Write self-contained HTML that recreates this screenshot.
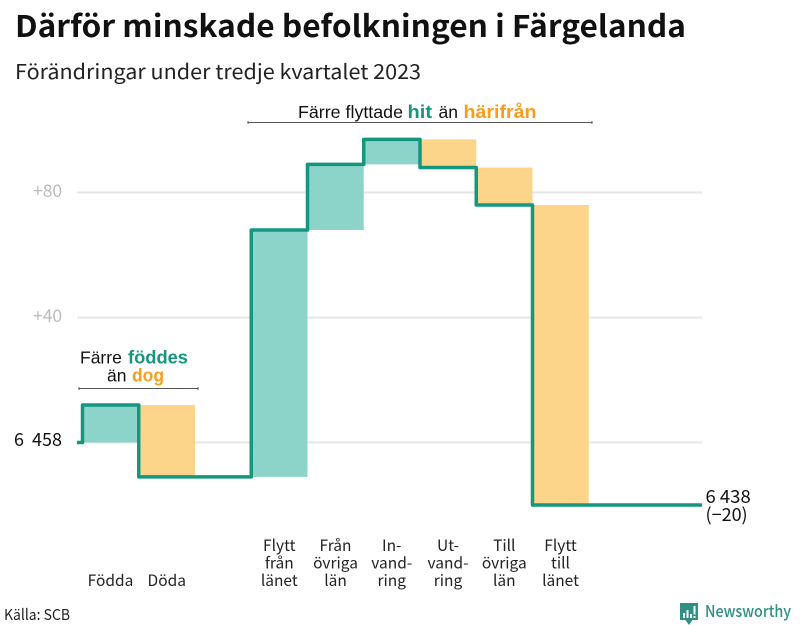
<!DOCTYPE html>
<html lang="sv">
<head>
<meta charset="utf-8">
<title>Därför minskade befolkningen i Färgelanda</title>
<style>
html,body{margin:0;padding:0;background:#fff}
svg{display:block}
.n{font-family:"Noto Sans CJK JP","DejaVu Sans",sans-serif}
.a{font-family:"Liberation Sans",sans-serif;font-size:17.5px;fill:#111}
.b{font-weight:bold;font-size:18px}
.t{fill:#14967f}
.o{fill:#f99d1c}
</style>
</head>
<body>
<svg id="chart" width="800" height="625" viewBox="0 0 800 625" xmlns="http://www.w3.org/2000/svg">
<rect width="800" height="625" fill="#fff"/>
<text class="n" x="15" y="37" font-size="30" font-weight="700" fill="#111" textLength="671" lengthAdjust="spacingAndGlyphs">Därför minskade befolkningen i Färgelanda</text>
<text class="n" x="15" y="79" font-size="20.5" fill="#222" textLength="406" lengthAdjust="spacingAndGlyphs">Förändringar under tredje kvartalet 2023</text>
<g id="grid"></g>
<g id="bars"></g>
<path id="step" fill="none" stroke="#14967f" stroke-width="3.5" stroke-linejoin="round"/>
<g id="labels"></g>
<g>
<text class="a" x="298" y="118" textLength="105" lengthAdjust="spacingAndGlyphs">Färre flyttade</text>
<text class="a b t" x="407.5" y="118" textLength="24.500" lengthAdjust="spacingAndGlyphs">hit</text>
<text class="a" x="438.5" y="118">än</text>
<text class="a b o" x="463.5" y="118" textLength="73" lengthAdjust="spacingAndGlyphs">härifrån</text>
<path d="M248 122.5H592M248 121V124M592 121V124" stroke="#555" stroke-width="1" fill="none"/>
</g>
<g>
<text class="a" x="80" y="363.500">Färre</text>
<text class="a b t" x="128" y="363.500" textLength="60" lengthAdjust="spacingAndGlyphs">föddes</text>
<text class="a" x="107" y="381.500">än</text>
<text class="a b o" x="132" y="381.500" textLength="32" lengthAdjust="spacingAndGlyphs">dog</text>
<path d="M79 388.5H198M79 387V390M198 387V390" stroke="#555" stroke-width="1" fill="none"/>
</g>
<text class="n" x="4" y="620" font-size="15" fill="#222" textLength="66" lengthAdjust="spacingAndGlyphs">Källa: SCB</text>
<g>
<path d="M680 603H698V620H692.500L689 625L685.500 620H680Z" fill="#2f8f85"/>
<path d="M683 618V613H685V618ZM686.500 618V610H688.500V618ZM690 618V614H692V618ZM693.500 618V616H695.500V618ZM693.500 614.500V606H695.500V614.500Z" fill="#fff"/>
<text x="705" y="617" font-family="'Noto Sans CJK JP','DejaVu Sans',sans-serif" font-size="16.5" font-weight="500" fill="#2f8f85" textLength="86" lengthAdjust="spacingAndGlyphs">Newsworthy</text>
</g>
</svg>
<script>
const categories = [["Födda"], ["Döda"], [], ["Flytt", "från", "länet"], ["Från", "övriga", "län"], ["In-", "vand-", "ring"], ["Ut-", "vand-", "ring"], ["Till", "övriga", "län"], ["Flytt", "till", "länet"]];
const changes = [12, -23, 0, 79, 21, 8, -9, -12, -96];
const startValue = 6458;
const yTicks = [80, 40, 0];
const tickLabels = ["+80", "+40", "6  458"];

const NS = 'http://www.w3.org/2000/svg';
const xScale = i => 82.5 + i * 56.25;
const yScale = d => 442.5 - d * 3.125;
const fmt = v => String(v).replace(/(\d)(\d{3})$/, '$1 $2');
function make(tag, parent, attrs) {
  const el = document.createElementNS(NS, tag);
  for (const k in attrs) el.setAttribute(k, attrs[k]);
  parent.appendChild(el);
  return el;
}
const gridG = document.getElementById('grid');
yTicks.forEach((t, i) => {
  const line = make('line', gridG, {x1: 77, x2: 702, y1: yScale(t), y2: yScale(t), stroke: '#e6e6e6', 'stroke-width': 2});
  
  
  const isBase = t === 0;
  const label = make('text', gridG, {
    x: isBase ? 14 : 33, y: yScale(t) + (isBase ? 3.5 : 4.5),
    'font-family': isBase ? '"Noto Sans CJK JP","DejaVu Sans",sans-serif' : '"Noto Sans CJK JP","DejaVu Sans",sans-serif',
    'font-size': isBase ? 18 : 17.5, fill: isBase ? '#111' : '#bbb'
  });
  
  
  label.setAttribute('xml:space', 'preserve');
  label.style.whiteSpace = 'pre';
  label.textContent = tickLabels[i];
});
const barsG = document.getElementById('bars');
const labelsG = document.getElementById('labels');
let running = 0;
let d = 'M77 ' + yScale(0) + 'H' + xScale(0);
changes.forEach((c, i) => {
  const next = running + c;
  if (c !== 0) {
    const bar = make('rect', barsG, {
      x: xScale(i), y: Math.min(yScale(running), yScale(next)),
      width: 56.25, height: Math.abs(yScale(next) - yScale(running)),
      fill: c > 0 ? '#8cd4ca' : '#fcd58b'
    });
    
    
  }
  d += 'V' + yScale(next) + 'H' + xScale(i + 1);
  running = next;
  const lines = categories[i];
  const n = lines.length;
  lines.forEach((txt, j) => {
    const t = make('text', labelsG, {
      x: xScale(i) + 28, y: 586 - (n - 1 - j) * 17.5, 'text-anchor': 'middle',
      'font-family': '"Noto Sans CJK JP","DejaVu Sans",sans-serif', 'font-size': 15.5, fill: '#222'
    });
    
    
    t.textContent = txt;
  });
});
d += 'H702';
document.getElementById('step').setAttribute('d', d);
const svgEl = document.getElementById('chart');
const endVal = make('text', svgEl, {x: 705.5, y: yScale(running) - 2, 'font-family': '"Noto Sans CJK JP","DejaVu Sans",sans-serif', 'font-size': 18.5, fill: '#111'});


endVal.textContent = fmt(startValue + running);
const endChange = make('text', svgEl, {x: 705.5, y: yScale(running) + 16, 'font-family': '"Noto Sans CJK JP","DejaVu Sans",sans-serif', 'font-size': 18, fill: '#111'});


endChange.textContent = '(' + (running < 0 ? '−' : '+') + Math.abs(running) + ')';
</script>
</body>
</html>
